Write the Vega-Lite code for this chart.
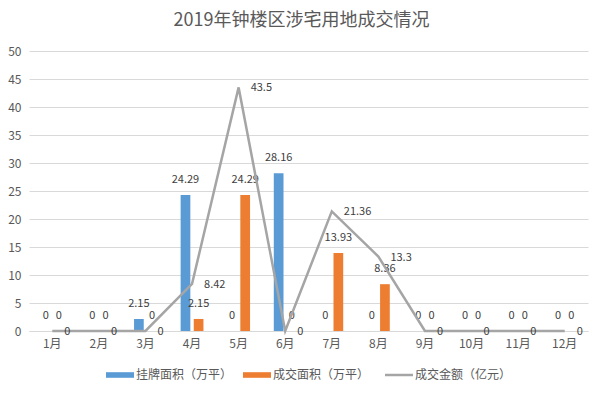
{
  "$schema": "https://vega.github.io/schema/vega-lite/v6.json",
  "autosize": "none",
  "width": 559,
  "height": 280,
  "padding": {"left": 29, "top": 51, "right": 15, "bottom": 63},
  "background": "white",
  "config": {
    "font": "Noto Sans CJK SC",
    "view": {"stroke": null},
    "axis": {"labelFont": "Noto Sans CJK SC", "labelColor": "#595959", "labelFontSize": 12},
    "legend": {
      "symbolSize": 784,
      "labelFontSize": 12,
      "labelColor": "#595959",
      "labelFont": "Noto Sans CJK SC",
      "labelOffset": 10,
      "columnPadding": 10,
      "symbolStrokeWidth": 2.5
    }
  },
  "title": {
    "text": "2019年钟楼区涉宅用地成交情况",
    "fontSize": 18,
    "fontWeight": "normal",
    "color": "#595959",
    "font": "Noto Sans CJK SC",
    "offset": 15,
    "dx": -7
  },
  "data": {
    "values": [
      {"month": "1月", "series": "挂牌面积（万平）", "value": 0},
      {"month": "1月", "series": "成交面积（万平）", "value": 0},
      {"month": "1月", "series": "成交金额（亿元）", "value": 0},
      {"month": "2月", "series": "挂牌面积（万平）", "value": 0},
      {"month": "2月", "series": "成交面积（万平）", "value": 0},
      {"month": "2月", "series": "成交金额（亿元）", "value": 0},
      {"month": "3月", "series": "挂牌面积（万平）", "value": 2.15},
      {"month": "3月", "series": "成交面积（万平）", "value": 0},
      {"month": "3月", "series": "成交金额（亿元）", "value": 0},
      {"month": "4月", "series": "挂牌面积（万平）", "value": 24.29},
      {"month": "4月", "series": "成交面积（万平）", "value": 2.15},
      {"month": "4月", "series": "成交金额（亿元）", "value": 8.42},
      {"month": "5月", "series": "挂牌面积（万平）", "value": 0},
      {"month": "5月", "series": "成交面积（万平）", "value": 24.29},
      {"month": "5月", "series": "成交金额（亿元）", "value": 43.5},
      {"month": "6月", "series": "挂牌面积（万平）", "value": 28.16},
      {"month": "6月", "series": "成交面积（万平）", "value": 0},
      {"month": "6月", "series": "成交金额（亿元）", "value": 0},
      {"month": "7月", "series": "挂牌面积（万平）", "value": 0},
      {"month": "7月", "series": "成交面积（万平）", "value": 13.93},
      {"month": "7月", "series": "成交金额（亿元）", "value": 21.36},
      {"month": "8月", "series": "挂牌面积（万平）", "value": 0},
      {"month": "8月", "series": "成交面积（万平）", "value": 8.36},
      {"month": "8月", "series": "成交金额（亿元）", "value": 13.3},
      {"month": "9月", "series": "挂牌面积（万平）", "value": 0},
      {"month": "9月", "series": "成交面积（万平）", "value": 0},
      {"month": "9月", "series": "成交金额（亿元）", "value": 0},
      {"month": "10月", "series": "挂牌面积（万平）", "value": 0},
      {"month": "10月", "series": "成交面积（万平）", "value": 0},
      {"month": "10月", "series": "成交金额（亿元）", "value": 0},
      {"month": "11月", "series": "挂牌面积（万平）", "value": 0},
      {"month": "11月", "series": "成交面积（万平）", "value": 0},
      {"month": "11月", "series": "成交金额（亿元）", "value": 0},
      {"month": "12月", "series": "挂牌面积（万平）", "value": 0},
      {"month": "12月", "series": "成交面积（万平）", "value": 0},
      {"month": "12月", "series": "成交金额（亿元）", "value": 0}
    ]
  },
  "encoding": {
    "x": {
      "field": "month",
      "type": "nominal",
      "sort": ["1月","2月","3月","4月","5月","6月","7月","8月","9月","10月","11月","12月"],
      "scale": {"paddingInner": 0.51, "paddingOuter": 0.255},
      "axis": {"title": null, "labelAngle": 0, "domainColor": "#d9d9d9", "domainWidth": 1, "ticks": false, "labelPadding": 7, "grid": false}
    },
    "y": {
      "field": "value",
      "type": "quantitative",
      "scale": {"domain": [0, 50], "nice": false},
      "axis": {"title": null, "values": [0,5,10,15,20,25,30,35,40,45,50], "domain": false, "ticks": false, "gridColor": "#d9d9d9", "gridWidth": 1, "labelPadding": 8}
    }
  },
  "layer": [
    {
      "transform": [{"filter": "datum.series !== '成交金额（亿元）'"}],
      "mark": {"type": "bar"},
      "encoding": {
        "xOffset": {"field": "series", "type": "nominal", "scale": {"domain": ["挂牌面积（万平）", "成交面积（万平）"], "paddingInner": 0.26}},
        "color": {
          "field": "series",
          "type": "nominal",
          "scale": {"domain": ["挂牌面积（万平）", "成交面积（万平）", "成交金额（亿元）"], "range": ["#5b9bd5", "#ed7d31", "#a5a5a5"]},
          "legend": {
            "title": null,
            "orient": "none",
            "direction": "horizontal",
            "legendX": 85,
            "legendY": 318,
            "symbolSize": 784,
            "labelFontSize": 12,
            "labelOffset": 10,
            "columnPadding": 10,
            "encode": {
              "symbols": {
                "update": {
                  "size": {"value": 784},
                  "shape": {"signal": "datum.value === '成交金额（亿元）' ? 'M-1,0H1' : 'M-1,-0.2H1V0.2H-1Z'"},
                  "fill": {"signal": "datum.value === '挂牌面积（万平）' ? '#5b9bd5' : datum.value === '成交面积（万平）' ? '#ed7d31' : 'transparent'"},
                  "stroke": {"signal": "datum.value === '挂牌面积（万平）' ? '#5b9bd5' : datum.value === '成交面积（万平）' ? '#ed7d31' : '#a5a5a5'"},
                  "strokeWidth": {"signal": "datum.value === '成交金额（亿元）' ? 2.5 : 0"}
                }
              }
            }
          }
        }
      }
    },
    {
      "transform": [{"filter": "datum.series !== '成交金额（亿元）'"}],
      "mark": {"type": "text", "baseline": "middle", "dy": -15, "fontSize": 11, "color": "#404040", "font": "Noto Sans CJK SC"},
      "encoding": {
        "xOffset": {"field": "series", "type": "nominal"},
        "text": {"field": "value", "type": "quantitative"}
      }
    },
    {
      "transform": [{"filter": "datum.series === '成交金额（亿元）'"}],
      "mark": {"type": "line", "strokeWidth": 2.5},
      "encoding": {
        "color": {"field": "series", "type": "nominal"}
      }
    },
    {
      "transform": [{"filter": "datum.series === '成交金额（亿元）'"}],
      "mark": {"type": "text", "align": "left", "baseline": "middle", "dx": 12, "dy": 1, "fontSize": 11, "color": "#404040", "font": "Noto Sans CJK SC"},
      "encoding": {
        "text": {"field": "value", "type": "quantitative"}
      }
    }
  ]
}
